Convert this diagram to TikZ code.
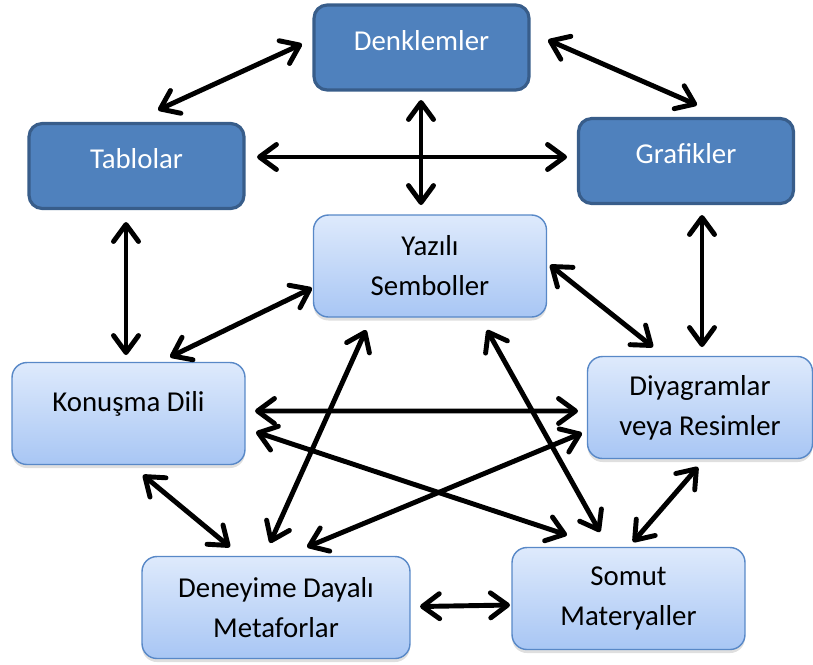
\documentclass[tikz,border=0pt]{standalone}
\usepackage{fontspec}
\setmainfont{Carlito}
\usepackage{tikz}
\usetikzlibrary{positioning,calc,arrows.meta,shadows}
\definecolor{darkfill}{RGB}{79,129,189}
\definecolor{darkline}{RGB}{56,93,138}
\definecolor{lighttop}{RGB}{222,234,252}
\definecolor{lightbot}{RGB}{168,198,244}
\definecolor{lightline}{RGB}{88,136,199}
\tikzset{
  darkbox/.style={shape=rectangle,rounded corners=7.5pt,fill=darkfill,
    draw=darkline,line width=1.8pt,text=white,
    minimum width=4.3cm,minimum height=1.7cm,text height=.7em,text depth=.4em},
  lightbox/.style={shape=rectangle,rounded corners=8.5pt,
    top color=lighttop,bottom color=lightbot,draw=lightline,line width=.8pt,
    align=center,minimum width=4.66cm,minimum height=2.04cm,
    drop shadow={shadow xshift=0pt,shadow yshift=-2pt,opacity=.25}},
  biarrow/.style={line width=2.8pt,line cap=round,
    {Straight Barb[length=3.4mm,width=5mm,round]}-{Straight Barb[length=3.4mm,width=5mm,round]}}
}

\begin{document}
\begin{tikzpicture}[x=0.02cm,y=-0.02cm,font=\fontsize{16.4}{22.7}\selectfont]
    \useasboundingbox (0,0) rectangle (813,664);
    % upper row
    \node (den) [darkbox] at (421.5,47.5) {Denklemler};
    \node (tab) [darkbox] at (136.5,166) {Tablolar};
    \node (gra) [darkbox] at (686,161) {Grafikler};
    % light boxes
    \node (yaz) [lightbox] at (430,266) {Yazılı\\Semboller};
    \node (kon) [lightbox,text height=.7em,text depth=.95em] at (128.5,413.5) {Konuşma Dili};
    \node (diy) [lightbox,minimum width=4.5cm] at (700,407.5) {Diyagramlar\\veya Resimler};
    \node (met) [lightbox,minimum width=5.36cm] at (276,607.5) {Deneyime Dayalı\\Metaforlar};
    \node (som) [lightbox] at (628.5,598.5) {Somut\\Materyaller};
    % connections
    \draw [biarrow] ($(den)+(-119.5,-3.5)$) -- ($(tab)+(21.5,-56)$);
    \draw [biarrow] ($(den)+(126.5,-7.5)$) -- ($(gra)+(11,-56)$);
    \draw [biarrow] ($(tab)+(120.5,-9)$) -- ($(gra)+(-119,-4)$);
    \draw [biarrow] ($(den)+(-0.5,52.5)$) -- ($(yaz)+(-9,-61)$);
    \draw [biarrow] ($(tab)+(-10.5,56)$) -- ($(kon)+(-2.5,-58.5)$);
    \draw [biarrow] ($(gra)+(16,54)$) -- ($(diy)+(2,-60.5)$);
    \draw [biarrow] ($(yaz)+(-118,22)$) -- ($(kon)+(41.5,-56.5)$);
    \draw [biarrow] ($(yaz)+(120,-1)$) -- ($(diy)+(-47,-60.5)$);
    \draw [biarrow] ($(kon)+(126.5,-2.5)$) -- ($(diy)+(-122,3.5)$);
    \draw [biarrow] ($(kon)+(127.5,18.5)$) -- ($(som)+(-61.5,-63.5)$);
    \draw [biarrow] ($(diy)+(-118,25.5)$) -- ($(met)+(31,-60.5)$);
    \draw [biarrow] ($(yaz)+(-64,64)$) -- ($(met)+(-6,-64.5)$);
    \draw [biarrow] ($(yaz)+(57,64)$) -- ($(som)+(-28.5,-66.5)$);
    \draw [biarrow] ($(kon)+(14.5,61.5)$) -- ($(met)+(-46,-60.5)$);
    \draw [biarrow] ($(diy)+(-2,59.5)$) -- ($(som)+(4.5,-56.5)$);
    \draw [biarrow] ($(met)+(144,-1)$) -- ($(som)+(-118.5,6.5)$);
\end{tikzpicture}
\end{document}
